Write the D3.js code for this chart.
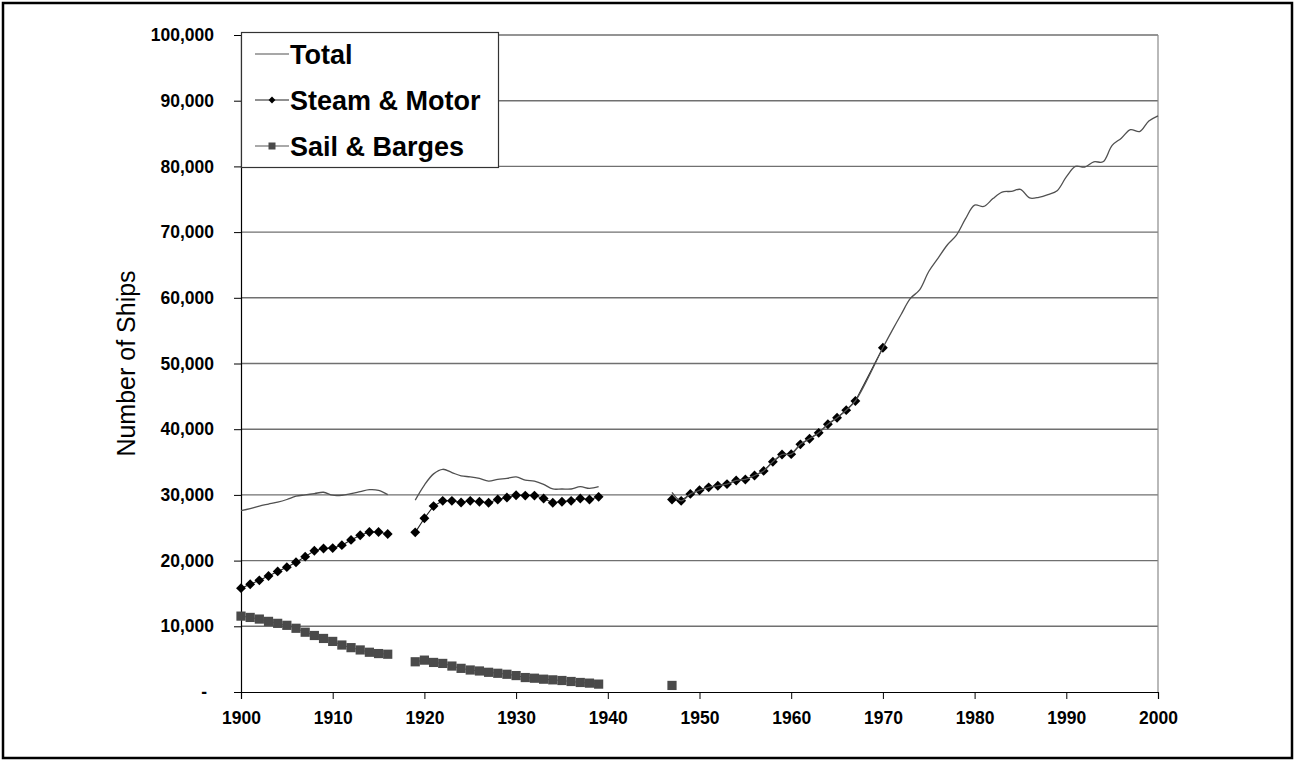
<!DOCTYPE html>
<html>
<head>
<meta charset="utf-8">
<script src="https://cdn.jsdelivr.net/npm/d3@7"></script>
<style>
  html, body { margin: 0; padding: 0; background: #fff; }
  svg { display: block; }
  text { font-family: "Liberation Sans", Arial, sans-serif; }
</style>
</head>
<body>
<svg id="chart" width="1295" height="760"></svg>
<script>
// ---------- data ----------
const steamYears1 = [1900,1901,1902,1903,1904,1905,1906,1907,1908,1909,1910,1911,1912,1913,1914,1915,1916];
const steamVals1  = [15800,16400,17000,17650,18350,19000,19750,20600,21500,21850,21900,22350,23150,23850,24350,24350,24050];
const sailVals1   = [11550,11350,11100,10750,10450,10150,9700,9100,8600,8150,7700,7150,6750,6400,6050,5850,5750];
const totalVals1  = [27600,27900,28300,28600,28900,29300,29800,30000,30200,30400,29950,29950,30200,30500,30800,30700,30050];

const years2      = [1919,1920,1921,1922,1923,1924,1925,1926,1927,1928,1929,1930,1931,1932,1933,1934,1935,1936,1937,1938,1939];
const steamVals2  = [24300,26450,28300,29100,29100,28850,29100,28950,28800,29300,29600,29950,29900,29900,29450,28800,28950,29100,29450,29300,29700];
const sailVals2   = [4600,4850,4500,4350,3950,3600,3350,3200,3000,2850,2700,2500,2200,2100,1950,1850,1750,1600,1450,1350,1200];
const totalVals2  = [29200,31500,33200,33900,33400,32900,32750,32500,32100,32350,32500,32750,32250,32100,31600,30900,30900,30900,31250,31000,31250];

const steamYears3 = [1947,1948,1949,1950,1951,1952,1953,1954,1955,1956,1957,1958,1959,1960,1961,1962,1963,1964,1965,1966,1967,1970];
const steamVals3  = [29300,29100,30150,30700,31150,31400,31650,32200,32350,32950,33650,35050,36150,36200,37700,38550,39450,40750,41750,42900,44300,52400];
const sailYears3  = [1947];
const sailVals3   = [1000];
const totalYears3 = [1947,1948,1949,1950,1951,1952,1953,1954,1955,1956,1957,1958,1959,1960,1961,1962,1963,1964,1965,1966,1967,
                     1970,1971,1972,1973,1974,1975,1976,1977,1978,1979,1980,1981,1982,1983,1984,1985,1986,1987,1988,1989,
                     1990,1991,1992,1993,1994,1995,1996,1997,1998,1999,2000];
const totalVals3  = [30400,29100,30150,30700,31150,31400,31650,32200,32350,32950,33650,35050,36150,36200,37700,38550,39450,40750,41750,42900,44300,
                     52400,55000,57500,59900,61200,64000,66000,68000,69500,72000,74100,73900,75100,76100,76200,76500,75200,75300,75700,76300,
                     78400,80000,79900,80700,80700,83200,84300,85600,85300,86900,87700];

const yTicks = [0,10000,20000,30000,40000,50000,60000,70000,80000,90000,100000];
const xTicks = [1900,1910,1920,1930,1940,1950,1960,1970,1980,1990,2000];
const legendLabels = ["Total", "Steam & Motor", "Sail & Barges"];
const yTitle = "Number of Ships";

// ---------- build series ----------
const zip = (ys, vs) => ys.map((y, i) => ({x: y, v: vs[i]}));
const totalSegs = [zip(steamYears1, totalVals1), zip(years2, totalVals2), zip(totalYears3, totalVals3)];
const steamSegs = [zip(steamYears1, steamVals1), zip(years2, steamVals2), zip(steamYears3, steamVals3)];
const sailSegs  = [zip(steamYears1, sailVals1), zip(years2, sailVals2), zip(sailYears3, sailVals3)];

// ---------- layout ----------
const svg = d3.select("#chart");
const L = 241, R = 1158, T = 35, B = 692;
const x = d3.scaleLinear().domain([1900, 2000]).range([L, R]);
const y = d3.scaleLinear().domain([0, 100000]).range([B, T]);

// outer frame
svg.append("rect").attr("x", 3).attr("y", 3).attr("width", 1289).attr("height", 755)
  .attr("fill", "#fff").attr("stroke", "#000").attr("stroke-width", 2.5);

// gridlines
svg.append("g").selectAll("line").data(yTicks.filter(d => d > 0)).join("line")
  .attr("x1", L).attr("x2", R).attr("y1", d => y(d)).attr("y2", d => y(d))
  .attr("stroke", "#707070").attr("stroke-width", 1.4);

// right plot border
svg.append("line").attr("x1", R).attr("x2", R).attr("y1", T).attr("y2", B)
  .attr("stroke", "#8a8a8a").attr("stroke-width", 1.2);

// y axis
const yAxis = d3.axisLeft(y).tickValues(yTicks).tickSize(7).tickPadding(20)
  .tickFormat(d => d === 0 ? "" : d3.format(",")(d));
const gy = svg.append("g").attr("transform", `translate(${L},0)`).call(yAxis);
gy.select(".domain").attr("stroke", "#000").attr("stroke-width", 1.2);
gy.selectAll(".tick line").attr("stroke", "#000");
gy.selectAll(".tick text").attr("font-size", 17.5).attr("font-weight", "bold")
  .attr("font-family", "'Liberation Sans', Arial, sans-serif").attr("fill", "#000");
// zero label dash (accounting format)
svg.append("text").attr("x", 207).attr("y", y(0)).attr("dy", "0.32em").attr("text-anchor", "end")
  .attr("font-size", 17.5).attr("font-weight", "bold").text("-");

// x axis
const xAxis = d3.axisBottom(x).tickValues(xTicks).tickSize(7).tickPadding(13).tickFormat(d3.format("d"));
const gx = svg.append("g").attr("transform", `translate(0,${B})`).call(xAxis);
gx.select(".domain").attr("stroke", "#000").attr("stroke-width", 1.2);
gx.selectAll(".tick line").attr("stroke", "#000");
gx.selectAll(".tick text").attr("font-size", 17.5).attr("font-weight", "bold")
  .attr("font-family", "'Liberation Sans', Arial, sans-serif").attr("fill", "#000");

// y title
svg.append("text").attr("transform", `translate(135,${(T + B) / 2}) rotate(-90)`)
  .attr("text-anchor", "middle").attr("font-size", 25).attr("fill", "#000").text(yTitle);

// ---------- series ----------
const smooth = d3.line().x(d => x(d.x)).y(d => y(d.v)).curve(d3.curveCatmullRom.alpha(0.5));
const straight = d3.line().x(d => x(d.x)).y(d => y(d.v));

const gSail = svg.append("g");
sailSegs.forEach(seg => {
  gSail.append("path").attr("d", straight(seg)).attr("fill", "none").attr("stroke", "#555").attr("stroke-width", 1);
  gSail.selectAll(null).data(seg).join("rect")
    .attr("x", d => x(d.x) - 4.6).attr("y", d => y(d.v) - 4.6).attr("width", 9.2).attr("height", 9.2)
    .attr("fill", "#4a4a4a");
});

const gSteam = svg.append("g");
const diamond = d3.symbol().type(d3.symbolDiamond2).size(62);
steamSegs.forEach(seg => {
  gSteam.append("path").attr("d", straight(seg)).attr("fill", "none").attr("stroke", "#222").attr("stroke-width", 1.1);
  gSteam.selectAll(null).data(seg).join("path")
    .attr("d", diamond).attr("transform", d => `translate(${x(d.x)},${y(d.v)})`)
    .attr("fill", "#000");
});

const gTotal = svg.append("g");
totalSegs.forEach(seg => {
  gTotal.append("path").attr("d", smooth(seg)).attr("fill", "none").attr("stroke", "#505050").attr("stroke-width", 1.3);
});

// ---------- legend ----------
const lg = svg.append("g");
lg.append("rect").attr("x", 241.5).attr("y", 32.5).attr("width", 257).attr("height", 135)
  .attr("fill", "#fff").attr("stroke", "#333").attr("stroke-width", 1.2);
const rowsY = [54, 100, 146];
legendLabels.forEach((lab, i) => {
  const yy = rowsY[i];
  lg.append("line").attr("x1", 255).attr("x2", 289).attr("y1", yy).attr("y2", yy)
    .attr("stroke", i === 0 ? "#505050" : (i === 1 ? "#222" : "#555")).attr("stroke-width", 1.2);
  if (i === 1) {
    lg.append("path").attr("d", d3.symbol().type(d3.symbolDiamond2).size(30)).attr("transform", `translate(272,${yy})`).attr("fill", "#000");
  }
  if (i === 2) {
    lg.append("rect").attr("x", 268.5).attr("y", yy - 3.5).attr("width", 7).attr("height", 7).attr("fill", "#4a4a4a");
  }
  lg.append("text").attr("x", 290).attr("y", yy).attr("dy", "0.36em")
    .attr("font-size", 27).attr("font-weight", "bold").attr("fill", "#000").text(lab);
});
</script>
</body>
</html>
